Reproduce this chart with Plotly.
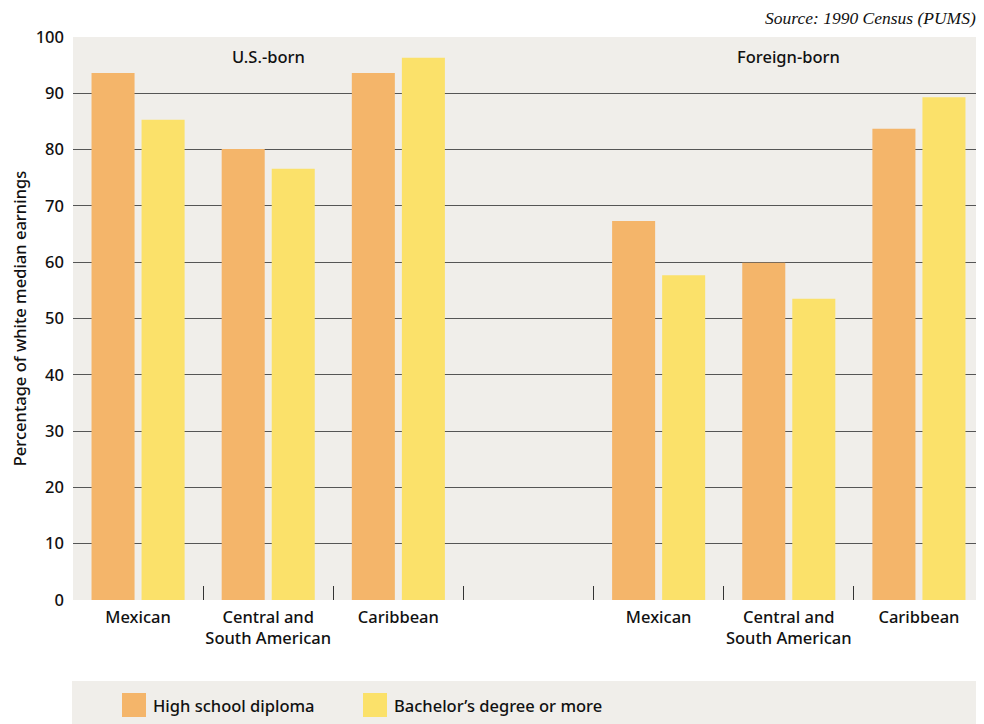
import plotly.graph_objects as go

# ---- data ----
slot_pos = [0, 1, 2, 4, 5, 6]
category_labels = ["Mexican", "Central and<br>South American", "Caribbean",
                   "Mexican", "Central and<br>South American", "Caribbean"]
group_labels = ["U.S.-born", "Foreign-born"]
group_label_pos = [1, 5]
series_names = ["High school diploma", "Bachelor\u2019s degree or more"]
high_school = [93.6, 80.1, 93.6, 67.3, 59.9, 83.7]
bachelor = [85.3, 76.6, 96.3, 57.7, 53.5, 89.3]
y_ticks = [0, 10, 20, 30, 40, 50, 60, 70, 80, 90, 100]
boundaries = [0.5, 1.5, 2.5, 3.5, 4.5, 5.5]
colors = ["#F4B56A", "#FBE16A"]

FONT = "Noto Sans"
FS = 16.5
TXT = "#111111"
OFF = 8  # page body margin
W, H = 984 - OFF, 724 - OFF
ML, MR, MT, MB = 73 - OFF, 0, 37 - OFF, 124
PH = H - MT - MB
PW = W - ML - MR


def py(pix):
    return (H - MB - (pix - OFF)) / PH


def px(pix):
    return (pix - OFF - ML) / PW


fig = go.Figure()
for name, vals, col in zip(series_names, [high_school, bachelor], colors):
    fig.add_trace(go.Bar(x=slot_pos, y=vals, name=name, marker_color=col,
                         marker_line_width=0, showlegend=False))

fig.update_layout(
    width=W, height=H,
    margin=dict(l=ML, r=MR, t=MT, b=MB),
    paper_bgcolor="white",
    plot_bgcolor="#F0EEEA",
    barmode="group",
    bargap=0.231,
    bargroupgap=0.14,
    font=dict(family=FONT, size=FS, color=TXT),
    xaxis=dict(
        range=[-0.5, 6.5],
        tickmode="array", tickvals=slot_pos, ticktext=category_labels,
        ticks="", showgrid=False, zeroline=False, showline=False,
        ticklabelstandoff=5,
        tickfont=dict(family=FONT, size=FS, color=TXT, weight=500),
        minor=dict(tickmode="array", tickvals=boundaries, ticks="inside",
                   ticklen=14, tickwidth=1, tickcolor="#333333", showgrid=False),
    ),
    yaxis=dict(
        range=[0, 100],
        tickmode="array", tickvals=y_ticks,
        showgrid=False, zeroline=False, showline=False, ticks="",
        ticklabelstandoff=8,
        tickfont=dict(family=FONT, size=FS, color=TXT, weight=500),
        title=dict(text="Percentage of white median earnings",
                   font=dict(family=FONT, size=FS, color=TXT, weight=500), standoff=12),
        minor=dict(tickmode="array", tickvals=y_ticks[1:-1], showgrid=True,
                   gridcolor="#555555", gridwidth=1.3, ticks=""),
    ),
)

# group labels
for lab, pos in zip(group_labels, group_label_pos):
    fig.add_annotation(x=pos, xref="x", y=py(57), yref="paper", text=lab,
                       showarrow=False, xanchor="center", yanchor="middle",
                       font=dict(family=FONT, size=FS, color=TXT, weight=500))

# source note
fig.add_annotation(x=px(982), xref="paper", y=py(18), yref="paper",
                   text="<i>Source: 1990 Census (PUMS).</i>", showarrow=False,
                   xanchor="right", yanchor="middle",
                   font=dict(family="Liberation Serif", size=17.5, color=TXT))

# legend box
fig.add_shape(type="rect", xref="paper", yref="paper",
              x0=px(72), x1=px(984), y0=py(724), y1=py(681),
              fillcolor="#F0EEEA", line_width=0, layer="below")
sw_x = [122, 363]
for name, col, sx in zip(series_names, colors, sw_x):
    fig.add_shape(type="rect", xref="paper", yref="paper",
                  x0=px(sx), x1=px(sx + 24), y0=py(717), y1=py(693),
                  fillcolor=col, line_width=0)
    fig.add_annotation(x=px(sx + 29), xref="paper", y=py(705), yref="paper",
                       text=name, showarrow=False, xanchor="left", yanchor="middle",
                       font=dict(family=FONT, size=FS, color=TXT, weight=500))

fig.write_html("out.html")
